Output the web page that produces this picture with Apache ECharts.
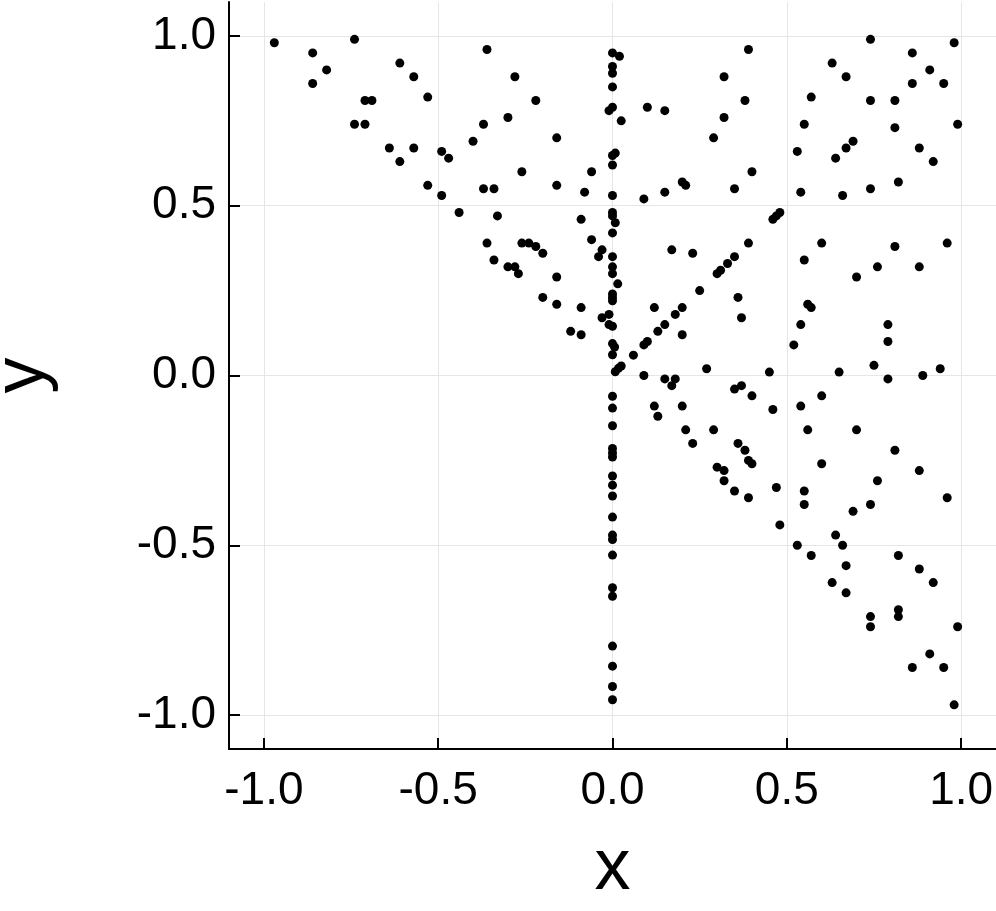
<!DOCTYPE html>
<html lang="en">
  <head>
    <meta charset="UTF-8" />
    <title>scatter x y</title>
    <script src="https://cdn.jsdelivr.net/npm/echarts@6/dist/echarts.min.js"></script>
    <style>
      html, body { margin: 0; padding: 0; background: #fff; }
      #main { width: 996px; height: 911px; }
    </style>
  </head>
  <body>
    <div id="main"></div>
    <script>
      // tick positions (both axes)
      const xTicks = [-1.0, -0.5, 0.0, 0.5, 1.0];
      const yTicks = [-1.0, -0.5, 0.0, 0.5, 1.0];

      // points on the x = 0 column
      const colX = [0, 0.02, 0, 0, 0, 0, -0.01, 0.025, 0.008, 0, 0, 0,
        0, 0, 0.008, 0, 0, 0, 0, 0.015, 0, 0, 0, -0.01, 0, 0, 0.006, 0,
        0, 0, 0, 0, 0, 0, 0, 0, 0, 0, 0, 0, 0,
        0, 0, 0, 0, 0, 0];
      const colY = [0.95, 0.94, 0.91, 0.89, 0.85, 0.79, 0.78, 0.75, 0.655, 0.648, 0.62, 0.53,
        0.48, 0.47, 0.45, 0.42, 0.35, 0.32, 0.30, 0.27, 0.24, 0.23, 0.22, 0.18, 0.145, 0.094, 0.084, 0.061,
        -0.061, -0.096, -0.148, -0.215, -0.228, -0.240, -0.296, -0.323, -0.355, -0.417, -0.470, -0.483, -0.529,
        -0.625, -0.650, -0.797, -0.856, -0.916, -0.955];

      // points with x < 0
      const leftX = [-0.97, -0.86, -0.74, -0.82, -0.86, -0.61, -0.57, -0.71, -0.69, -0.53, -0.74, -0.71,
        -0.64, -0.57, -0.61, -0.53, -0.36, -0.28, -0.22, -0.30, -0.37, -0.40, -0.16, -0.49, -0.47, -0.26,
        -0.06, -0.49, -0.37, -0.34, -0.16, -0.08, -0.44, -0.33, -0.09, -0.36, -0.26, -0.24, -0.22, -0.20,
        -0.06, -0.03, -0.04, -0.34, -0.30, -0.28, -0.27, -0.16, -0.20, -0.16, -0.09, -0.03, -0.01, -0.12, -0.09];
      const leftY = [0.98, 0.95, 0.99, 0.90, 0.86, 0.92, 0.88, 0.81, 0.81, 0.82, 0.74, 0.74,
        0.67, 0.67, 0.63, 0.56, 0.96, 0.88, 0.81, 0.76, 0.74, 0.69, 0.70, 0.66, 0.64, 0.60,
        0.60, 0.53, 0.55, 0.55, 0.56, 0.54, 0.48, 0.47, 0.46, 0.39, 0.39, 0.39, 0.38, 0.36,
        0.40, 0.37, 0.35, 0.34, 0.32, 0.32, 0.30, 0.29, 0.23, 0.21, 0.20, 0.17, 0.15, 0.13, 0.12];

      // points with x > 0, y > 0
      const upX = [0.10, 0.15, 0.39, 0.32, 0.38, 0.32, 0.29, 0.53, 0.55, 0.40, 0.20, 0.21, 0.35, 0.15, 0.09, 0.54,
        0.74, 0.98, 0.86, 0.63, 0.91, 0.67, 0.86, 0.95, 0.57, 0.74, 0.81, 0.81, 0.99, 0.69, 0.67, 0.64,
        0.88, 0.92, 0.66, 0.74, 0.82,
        0.008, 0.017, 0.025, 0.06, 0.09, 0.10, 0.13, 0.15, 0.18, 0.20, 0.12, 0.20, 0.25, 0.30, 0.31, 0.33,
        0.35, 0.39, 0.46, 0.47, 0.48, 0.17, 0.23, 0.36, 0.37, 0.52, 0.54, 0.55, 0.09, 0.27, 0.45,
        0.60, 0.81, 0.96, 0.76, 0.70, 0.88, 0.56, 0.57, 0.79, 0.79, 0.65, 0.75, 0.89, 0.94];
      const upY = [0.79, 0.78, 0.96, 0.88, 0.81, 0.76, 0.70, 0.66, 0.74, 0.60, 0.57, 0.56, 0.55, 0.54, 0.52, 0.54,
        0.99, 0.98, 0.95, 0.92, 0.90, 0.88, 0.86, 0.86, 0.82, 0.81, 0.81, 0.73, 0.74, 0.69, 0.67, 0.64,
        0.67, 0.63, 0.53, 0.55, 0.57,
        0.011, 0.021, 0.028, 0.06, 0.09, 0.10, 0.13, 0.15, 0.18, 0.20, 0.20, 0.12, 0.25, 0.30, 0.31, 0.33,
        0.35, 0.39, 0.46, 0.47, 0.48, 0.37, 0.36, 0.23, 0.17, 0.09, 0.15, 0.34, 0.00, 0.02, 0.01,
        0.39, 0.38, 0.39, 0.32, 0.29, 0.32, 0.21, 0.20, 0.15, 0.10, 0.01, 0.03, 0.00, 0.02];

      // points with x > 0, y < 0
      const downX = [0.15, 0.18, 0.17, 0.35, 0.37, 0.79,
        0.12, 0.13, 0.20, 0.40, 0.46, 0.54, 0.21, 0.23, 0.29, 0.36, 0.38, 0.39, 0.40, 0.30, 0.32, 0.32,
        0.35, 0.39, 0.47, 0.48, 0.53, 0.55, 0.55,
        0.60, 0.56, 0.70, 0.81, 0.60, 0.88, 0.76, 0.74, 0.69, 0.96, 0.64, 0.66, 0.57, 0.82, 0.67, 0.88,
        0.63, 0.92, 0.67, 0.74, 0.74, 0.82, 0.82, 0.99, 0.91, 0.86, 0.95, 0.98];
      const downY = [-0.01, -0.01, -0.03, -0.04, -0.03, -0.01,
        -0.09, -0.12, -0.09, -0.06, -0.10, -0.09, -0.16, -0.20, -0.16, -0.20, -0.22, -0.25, -0.26, -0.27, -0.28, -0.31,
        -0.34, -0.36, -0.33, -0.44, -0.50, -0.34, -0.38,
        -0.06, -0.16, -0.16, -0.22, -0.26, -0.28, -0.31, -0.38, -0.40, -0.36, -0.47, -0.50, -0.53, -0.53, -0.56, -0.57,
        -0.61, -0.61, -0.64, -0.71, -0.74, -0.69, -0.71, -0.74, -0.82, -0.86, -0.86, -0.97];

      function pairs(xs, ys) {
        return xs.map((x, i) => [x, ys[i]]);
      }
      const data = [].concat(
        pairs(colX, colY),
        pairs(leftX, leftY),
        pairs(upX, upY),
        pairs(downX, downY)
      );

      const font = '"Liberation Sans", Arial, sans-serif';
      function axisBase(ticks) {
        return {
          type: 'value',
          min: -1.1,
          max: 1.1,
          nameLocation: 'middle',
          nameTextStyle: { fontSize: 72, color: '#000', fontFamily: font },
          axisLine: { onZero: false, lineStyle: { color: '#000', width: 2 } },
          axisTick: {
            show: true, inside: true, length: 11, customValues: ticks,
            lineStyle: { color: '#000', width: 2 }
          },
          axisLabel: {
            customValues: ticks,
            fontSize: 46,
            color: '#000',
            fontFamily: font,
            formatter: (v) => v.toFixed(1)
          },
          splitLine: { show: true, lineStyle: { color: '#e6e6e6', width: 1 } }
        };
      }

      const chart = echarts.init(document.getElementById('main'));
      const xAxis = axisBase(xTicks);
      xAxis.name = 'x';
      xAxis.nameGap = 84;
      xAxis.axisLabel.margin = 19;
      const yAxis = axisBase(yTicks);
      yAxis.name = 'y';
      yAxis.nameGap = 170;
      yAxis.nameRotate = 90;
      yAxis.axisLabel.margin = 13;

      chart.setOption({
        animation: false,
        backgroundColor: '#fff',
        grid: { left: 229, right: 0, top: 2, bottom: 162, containLabel: false, outerBoundsMode: 'none' },
        xAxis: xAxis,
        yAxis: yAxis,
        series: [{
          type: 'scatter',
          data: data,
          symbol: 'circle',
          symbolSize: 9,
          itemStyle: { color: '#000', opacity: 1 }
        }]
      });
    </script>
  </body>
</html>
